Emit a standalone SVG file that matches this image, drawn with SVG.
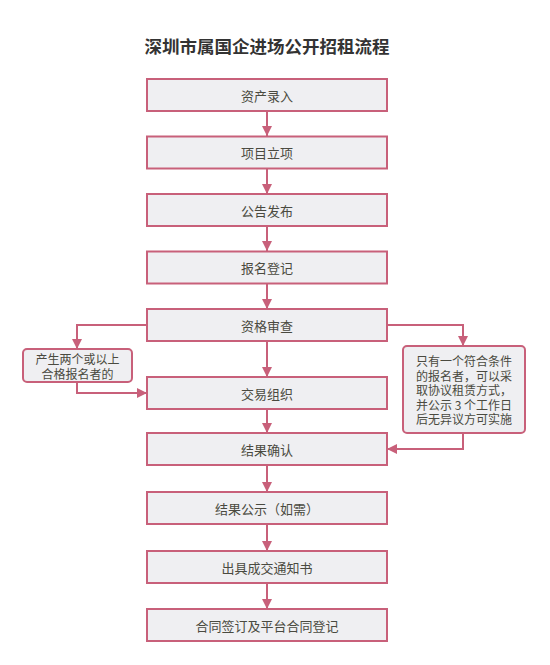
<svg xmlns="http://www.w3.org/2000/svg" width="550" height="665" viewBox="0 0 550 665">
<defs>
<marker id="ah" viewBox="0 0 10 10" refX="10" refY="5" markerWidth="10" markerHeight="10" markerUnits="userSpaceOnUse" orient="auto">
<path d="M0,0 L10,5 L0,10 Z" fill="#c8607a"/>
</marker>
<style>
.box{fill:#efeff2;stroke:#c8607a;stroke-width:2}
.note{fill:#efeff2;stroke:#c8607a;stroke-width:2}
.t{font-family:"Noto Sans CJK SC","Noto Sans",sans-serif;font-size:13px;fill:#4a4a40;text-anchor:middle;dominant-baseline:central}
.n{font-family:"Noto Sans CJK SC","Noto Sans",sans-serif;font-size:12px;fill:#4a4a40;text-anchor:middle;dominant-baseline:central}
.c{fill:none;stroke:#c8607a;stroke-width:2;marker-end:url(#ah)}
</style>
</defs>
<rect width="550" height="665" fill="#ffffff"/>
<text x="267" y="45" font-family="'Noto Sans CJK SC',sans-serif" font-size="17.5" font-weight="bold" fill="#333333" text-anchor="middle" dominant-baseline="central">深圳市属国企进场公开招租流程</text>
<g id="connectors">
<path class="c" d="M267,111 V136"/>
<path class="c" d="M267,168 V194"/>
<path class="c" d="M267,226 V251"/>
<path class="c" d="M267,283 V309"/>
<path class="c" d="M267,341 V377"/>
<path class="c" d="M267,409 V433"/>
<path class="c" d="M267,465 V492"/>
<path class="c" d="M267,524 V551"/>
<path class="c" d="M267,583 V609"/>
<path class="c" d="M147,325 H77 V349"/>
<path class="c" d="M77,382 V393 H147"/>
<path class="c" d="M387,325 H463 V346"/>
<path class="c" d="M463,433 V449 H387"/>
</g>
<g id="n1"><rect class="box" x="147" y="79" width="240" height="32"/><text class="t" x="267" y="95">资产录入</text></g>
<g id="n2"><rect class="box" x="147" y="136.5" width="240" height="32"/><text class="t" x="267" y="152.5">项目立项</text></g>
<g id="n3"><rect class="box" x="147" y="194" width="240" height="32"/><text class="t" x="267" y="210">公告发布</text></g>
<g id="n4"><rect class="box" x="147" y="251.5" width="240" height="32"/><text class="t" x="267" y="267.5">报名登记</text></g>
<g id="n5"><rect class="box" x="147" y="309" width="240" height="32"/><text class="t" x="267" y="325">资格审查</text></g>
<g id="n6"><rect class="box" x="147" y="377" width="240" height="32"/><text class="t" x="267" y="393">交易组织</text></g>
<g id="n7"><rect class="box" x="147" y="433" width="240" height="32"/><text class="t" x="267" y="449">结果确认</text></g>
<g id="n8"><rect class="box" x="147" y="492" width="240" height="32"/><text class="t" x="267" y="508">结果公示（如需）</text></g>
<g id="n9"><rect class="box" x="147" y="551" width="240" height="32"/><text class="t" x="267" y="567">出具成交通知书</text></g>
<g id="n10"><rect class="box" x="147" y="609" width="240" height="32"/><text class="t" x="267" y="625">合同签订及平台合同登记</text></g>
<g id="noteL"><rect class="note" x="23" y="349" width="109" height="33" rx="4"/><text class="n" x="77.5" y="358.5">产生两个或以上<tspan x="77.5" dy="14">合格报名者的</tspan></text></g>
<g id="noteR"><rect class="note" x="403" y="346" width="122" height="87" rx="4"/>
<text class="n" x="464" y="360">只有一个符合条件<tspan x="464" dy="14.5">的报名者，可以采</tspan><tspan x="464" dy="14.5">取协议租赁方式，</tspan><tspan x="464" dy="14.5">并公示 3 个工作日</tspan><tspan x="464" dy="14.5">后无异议方可实施</tspan></text>
</g>
</svg>
